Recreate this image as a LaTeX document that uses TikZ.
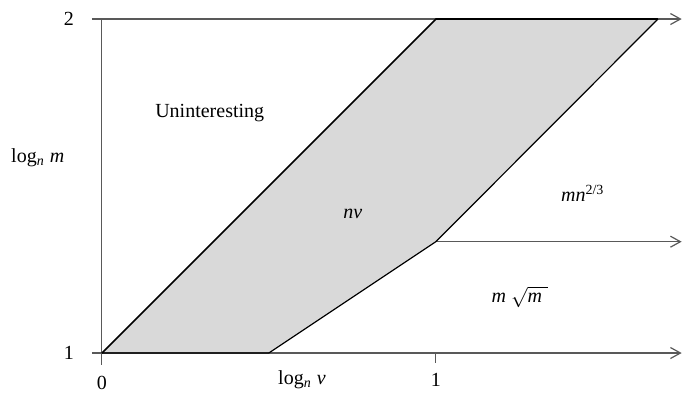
\documentclass[tikz,border=0pt]{standalone}
\usepackage{fontspec}
\setmainfont{Liberation Serif}
\usetikzlibrary{arrows.meta}

\begin{document}
\begin{tikzpicture}[x=167pt, y=167pt,
				>={Straight Barb[length=5pt,width=5.5pt,sep=1.5pt]},   %Pfeilspitzen
				axis/.style={draw=black!65, line width=0.6pt},
				bound/.style={draw=black, line width=0.6pt},
				font=\normalsize]
				%Bildbereich
				\useasboundingbox (-0.305,0.859) rectangle (1.749,2.057);
				% Eckpunkte des Bereichs
				\coordinate (O) at (0,1);
				\coordinate (T1) at (1,2);
				\coordinate (T2) at (1.665,2);
				\coordinate (K) at (1,4/3);
				\coordinate (B) at (0.5,1);
				\coordinate (E0) at (1.745,1);
				\coordinate (E1) at (1.745,4/3);
				\coordinate (E2) at (1.745,2);
				% Bereich fuellen
				\fill[black!15] (O) -- (T1) -- (T2) -- (K) -- (B) -- cycle;
				% Achsen zeichnen
				\draw[axis,->] (-0.03,1) -- (E0);
				\draw[axis,->] (-0.03,2) -- (E2);
				\draw[axis] (0,2) -- (0,0.965);
				\draw[axis] (1,1) -- (1,0.97);
				\draw[axis,->] (K) -- (E1);
				% Grenzen zeichnen
				\draw[bound, line width=0.8pt] (O) -- (T1) -- (T2);
				\draw[bound] (O) -- (B) -- (K) -- (T2);
				% Achsen beschriften
				\foreach \x/\yy in {0/0.910, 1/0.919} \node (tx\x) at (\x,\yy) {\x};
				\foreach \y in {1,2} \node (ty\y) at (-0.099,\y) {\y};
				\node (ylab) at (-0.192,1.584) {log\textsubscript{\textit{n}} \textit{m}};
				\node (xlab) at (0.599,0.919) {log\textsubscript{\textit{n}} \textit{v}};
				% Bereiche beschriften
				\node (unint) at (0.323,1.719) {Uninteresting};
				\node (nv) at (0.751,1.416) {\textit{nv}};
				\node (mn) at (1.44,1.479) {\textit{mn}\textsuperscript{2/3}};
				\node (msqrt) at (1.251,1.168) {\textit{m} $\sqrt{\mbox{\textit{m}}\;}$};
			\end{tikzpicture}
\end{document}
